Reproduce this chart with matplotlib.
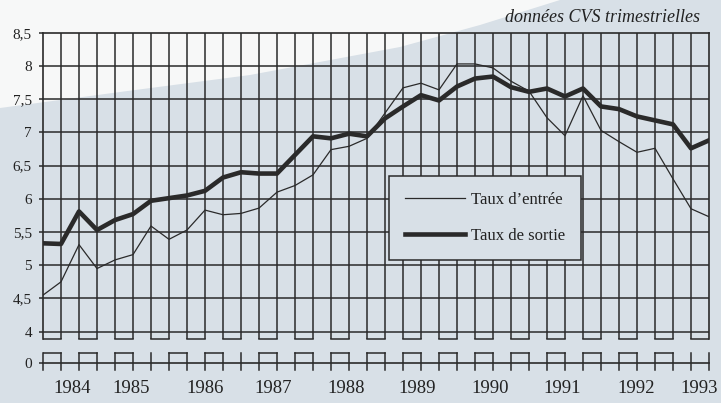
import matplotlib
matplotlib.use("Agg")
import matplotlib.pyplot as plt
from matplotlib.patches import Polygon

plt.rcParams['font.family'] = ['Liberation Serif', 'DejaVu Serif']

# quarterly data, 38 points (CVS)
taux_entree = [4.55, 4.75, 5.31, 4.95, 5.08, 5.16, 5.59, 5.39, 5.53, 5.83,
               5.76, 5.78, 5.86, 6.10, 6.20, 6.36, 6.74, 6.79, 6.91, 7.29,
               7.67, 7.74, 7.64, 8.03, 8.03, 7.97, 7.77, 7.62, 7.22, 6.95,
               7.55, 7.03, 6.86, 6.70, 6.76, 6.30, 5.85, 5.73]
taux_sortie = [5.33, 5.32, 5.81, 5.53, 5.68, 5.77, 5.97, 6.01, 6.05, 6.12,
               6.32, 6.40, 6.38, 6.38, 6.66, 6.94, 6.91, 6.98, 6.94, 7.21,
               7.39, 7.56, 7.48, 7.69, 7.81, 7.84, 7.68, 7.61, 7.66, 7.54,
               7.66, 7.39, 7.35, 7.24, 7.18, 7.12, 6.76, 6.88]
years = ['1984', '1985', '1986', '1987', '1988', '1989', '1990', '1991', '1992', '1993']
year_pos = [1.64, 4.92, 8.99, 12.76, 16.85, 20.8, 24.86, 28.86, 32.95, 36.46]
y_levels = [4, 4.5, 5, 5.5, 6, 6.5, 7, 7.5, 8, 8.5]
y_labels = ['4', '4,5', '5', '5,5', '6', '6,5', '7', '7,5', '8', '8,5']

bg = '#d8e0e7'
ink = '#2a2a2a'
n = len(taux_sortie)
x = list(range(n))

# fake broken axis: "0" sits just below 4
y_zero = 3.524
y_break_hi = 3.895
y_break_lo = 3.684

fig = plt.figure(figsize=(7.21, 4.03), dpi=100)
fig.patch.set_facecolor(bg)

# white paper corner top left (scan)
W, H = 721.0, 403.0
pts = [(0, 0), (0, 108), (120, 92), (250, 75), (400, 47), (480, 25), (560, 0)]
fig.patches.append(Polygon([(px / W, 1 - py / H) for px, py in pts], closed=True,
                           transform=fig.transFigure, facecolor='#f7f8f8',
                           edgecolor='none', zorder=-1))

ax = fig.add_axes([43 / W, 1 - 363.3 / H, 666 / W, 330.6 / H])
ax.set_facecolor('none')
ax.set_xlim(0, n - 1)
ax.set_ylim(y_zero, 8.5)

# grid
ax.hlines(y_levels[:-1], 0, n - 1, color=ink, lw=1.1, zorder=1)
ax.vlines(x[1:-1], y_break_hi, 8.5, color=ink, lw=1.1, zorder=1)

# axis break marks
for i in range(0, n - 1, 2):
    ax.plot([i, i + 1], [y_break_hi, y_break_hi], color=ink, lw=1.1, zorder=1)
lower = [(0, 1), (2, 3), (4, 5), (7, 8), (9, 10), (12, 13), (14, 15), (16, 17),
         (18, 19), (20, 21), (22, 23), (24, 25), (26, 27), (28, 29), (30, 31),
         (32, 33), (34, 35)]
for a, b in lower:
    ax.plot([a, b], [y_break_lo, y_break_lo], color=ink, lw=1.1, zorder=1)
for i in x:
    ax.plot([i, i], [3.43, y_break_lo], color=ink, lw=1.1, zorder=1, clip_on=False)

for side in ['left', 'right']:
    ax.spines[side].set_bounds(y_break_hi, 8.5)
for s in ax.spines.values():
    s.set_color(ink)
    s.set_linewidth(1.2)

ax.plot(x, taux_entree, color=ink, lw=0.9, label='Taux d\u2019entrée', zorder=3)
ax.plot(x, taux_sortie, color=ink, lw=3.3, label='Taux de sortie', zorder=3)

ax.set_yticks([y_zero] + y_levels, ['0'] + y_labels)
ax.tick_params(axis='y', length=3, width=1.1, color=ink, pad=5, labelsize=11,
               labelcolor='#222222')
ax.set_xticks(year_pos, years)
ax.tick_params(axis='x', length=0, pad=12, labelsize=13.5, labelcolor='#222222')

leg = ax.legend(loc='upper left', bbox_to_anchor=(0.5195, 0.5666),
                frameon=True, fancybox=False, fontsize=12, handlelength=3.6,
                handletextpad=0.4, labelspacing=1.2, borderpad=0.95,
                borderaxespad=0)
leg.get_frame().set_facecolor(bg)
leg.get_frame().set_edgecolor(ink)
leg.get_frame().set_linewidth(1.1)
leg.get_frame().set_alpha(1)
for t in leg.get_texts():
    t.set_color('#222222')

fig.text(700 / W, 1 - 17 / H, 'données CVS trimestrielles', ha='right',
         va='center', style='italic', fontsize=13, color='#222222')

fig.savefig('out.png', dpi=100, facecolor=fig.get_facecolor())
